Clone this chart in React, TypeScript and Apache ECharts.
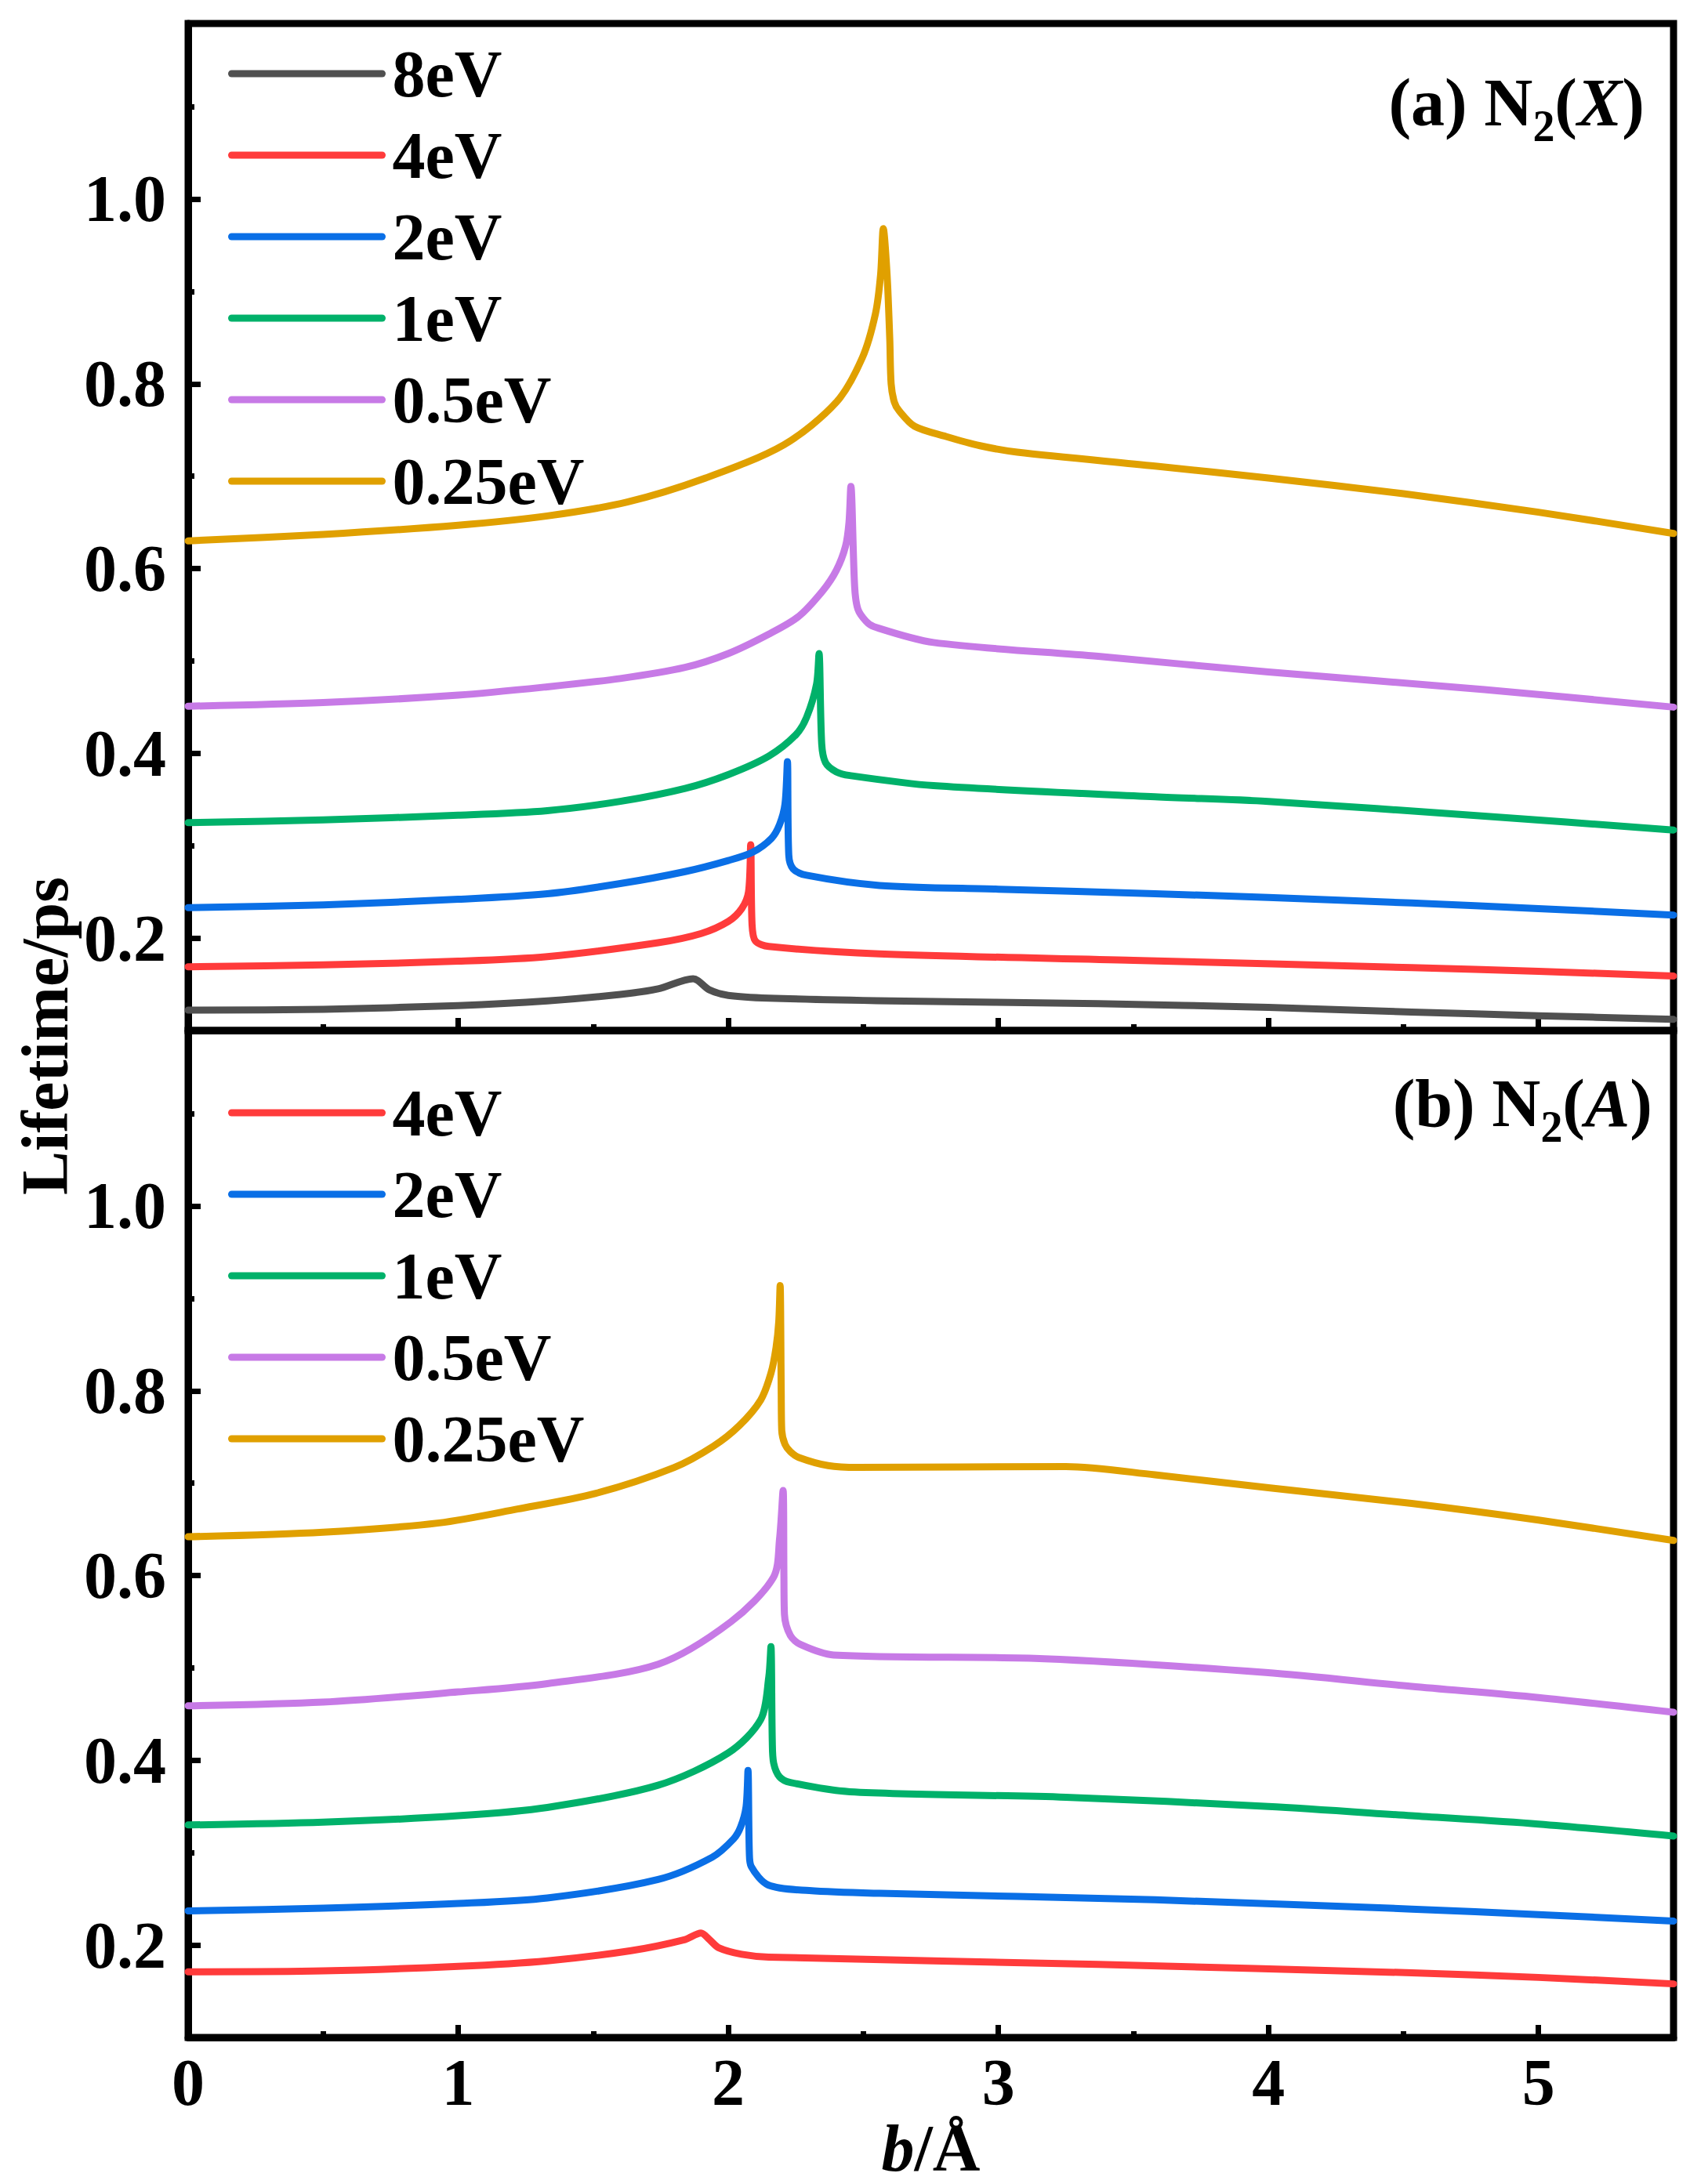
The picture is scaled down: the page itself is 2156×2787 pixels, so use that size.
import { useEffect, useRef } from 'react'
import * as echarts from 'echarts'

// b (Å) vs lifetime (ps)
const topNames = ['8eV', '4eV', '2eV', '1eV', '0.5eV', '0.25eV']
const bottomNames = ['4eV', '2eV', '1eV', '0.5eV', '0.25eV']

const colors: Record<string, string> = {
  '8eV': '#505050',
  '4eV': '#ff3b3b',
  '2eV': '#0a6fe6',
  '1eV': '#00b16a',
  '0.5eV': '#c77ae6',
  '0.25eV': '#e0a000'
}

// (a) N2(X)
const xEv8 = [[0, 0.122], [0.5, 0.123], [1.0, 0.127], [1.33, 0.132], [1.6, 0.139], [1.74, 0.145], [1.87, 0.156], [1.93, 0.144], [2.0, 0.138], [2.15, 0.135], [2.6, 0.132], [3.37, 0.129], [4.0, 0.125], [4.53, 0.12], [5.0, 0.116], [5.5, 0.112]]
const xEv4 = [[0, 0.169], [0.5, 0.171], [1.0, 0.175], [1.33, 0.18], [1.74, 0.195], [1.9, 0.205], [2.0, 0.218], [2.05, 0.232], [2.075, 0.25], [2.083, 0.301], [2.088, 0.215], [2.1, 0.197], [2.15, 0.191], [2.56, 0.183], [3.5, 0.176], [4.53, 0.168], [5.0, 0.164], [5.5, 0.159]]
const xEv2 = [[0, 0.233], [0.5, 0.236], [1.0, 0.242], [1.33, 0.248], [1.6, 0.259], [1.84, 0.272], [2.0, 0.284], [2.09, 0.293], [2.16, 0.308], [2.19, 0.323], [2.21, 0.345], [2.219, 0.391], [2.224, 0.29], [2.24, 0.275], [2.29, 0.268], [2.56, 0.257], [3.0, 0.253], [3.58, 0.248], [4.0, 0.244], [4.53, 0.238], [5.0, 0.232], [5.5, 0.225]]
const xEv1 = [[0, 0.325], [0.5, 0.328], [1.0, 0.333], [1.33, 0.338], [1.6, 0.348], [1.84, 0.362], [2.0, 0.377], [2.15, 0.397], [2.25, 0.42], [2.29, 0.439], [2.327, 0.475], [2.336, 0.508], [2.346, 0.41], [2.36, 0.39], [2.4, 0.38], [2.45, 0.376], [2.76, 0.365], [3.58, 0.353], [4.0, 0.348], [4.8, 0.332], [5.5, 0.317]]
const xEv05 = [[0, 0.451], [0.5, 0.455], [1.0, 0.463], [1.33, 0.472], [1.6, 0.481], [1.84, 0.493], [2.0, 0.508], [2.15, 0.529], [2.26, 0.548], [2.35, 0.576], [2.40, 0.598], [2.434, 0.624], [2.447, 0.65], [2.454, 0.689], [2.468, 0.58], [2.48, 0.556], [2.51, 0.543], [2.54, 0.537], [2.76, 0.52], [3.37, 0.505], [4.0, 0.488], [4.8, 0.469], [5.5, 0.45]]
const xEv025 = [[0, 0.63], [0.5, 0.637], [1.0, 0.647], [1.33, 0.657], [1.626, 0.672], [1.916, 0.698], [2.206, 0.734], [2.4, 0.78], [2.496, 0.828], [2.545, 0.876], [2.564, 0.918], [2.574, 0.968], [2.588, 0.918], [2.598, 0.848], [2.603, 0.8], [2.615, 0.78], [2.632, 0.771], [2.69, 0.754], [2.806, 0.743], [2.932, 0.733], [3.07, 0.726], [3.58, 0.711], [4.0, 0.698], [4.5, 0.681], [5.0, 0.661], [5.5, 0.638]]

// (b) N2(A)
const aEv4 = [[0, 0.171], [0.5, 0.172], [1.0, 0.177], [1.33, 0.183], [1.64, 0.194], [1.84, 0.206], [1.899, 0.213], [1.93, 0.206], [1.965, 0.197], [2.05, 0.19], [2.15, 0.187], [3.37, 0.179], [4.53, 0.17], [5.0, 0.165], [5.5, 0.158]]
const aEv2 = [[0, 0.237], [0.5, 0.24], [1.0, 0.245], [1.33, 0.251], [1.74, 0.271], [1.94, 0.295], [2.02, 0.315], [2.046, 0.328], [2.066, 0.35], [2.073, 0.389], [2.078, 0.3], [2.085, 0.285], [2.148, 0.265], [2.3, 0.259], [2.56, 0.256], [3.58, 0.249], [4.53, 0.239], [5.0, 0.233], [5.5, 0.226]]
const aEv1 = [[0, 0.33], [0.5, 0.333], [1.0, 0.34], [1.33, 0.349], [1.74, 0.373], [2.0, 0.408], [2.12, 0.444], [2.15, 0.49], [2.158, 0.523], [2.163, 0.42], [2.168, 0.397], [2.19, 0.382], [2.23, 0.376], [2.45, 0.366], [3.25, 0.36], [4.0, 0.35], [4.53, 0.34], [5.0, 0.331], [5.5, 0.318]]
const aEv05 = [[0, 0.459], [0.5, 0.463], [1.0, 0.474], [1.33, 0.483], [1.74, 0.504], [2.01, 0.55], [2.167, 0.598], [2.19, 0.64], [2.203, 0.692], [2.206, 0.6], [2.208, 0.558], [2.23, 0.535], [2.27, 0.525], [2.39, 0.514], [3.17, 0.51], [3.99, 0.495], [4.53, 0.48], [5.0, 0.468], [5.5, 0.452]]
const aEv025 = [[0, 0.642], [0.5, 0.647], [0.93, 0.657], [1.22, 0.672], [1.51, 0.689], [1.8, 0.717], [1.945, 0.74], [2.04, 0.762], [2.12, 0.79], [2.158, 0.819], [2.177, 0.847], [2.187, 0.875], [2.192, 0.914], [2.196, 0.8], [2.198, 0.757], [2.21, 0.742], [2.23, 0.734], [2.26, 0.728], [2.37, 0.719], [2.48, 0.717], [3.25, 0.718], [3.58, 0.709], [4.0, 0.695], [4.53, 0.678], [5.0, 0.66], [5.5, 0.638]]

const topData = [xEv8, xEv4, xEv2, xEv1, xEv05, xEv025]
const bottomData = [aEv4, aEv2, aEv1, aEv05, aEv025]

const xMajor = [0, 1, 2, 3, 4, 5]
const xMinor = [0.5, 1.5, 2.5, 3.5, 4.5]
const yMajor = [0.2, 0.4, 0.6, 0.8, 1.0]
const yMinor = [0.3, 0.5, 0.7, 0.9, 1.1]

const FONT = "'Liberation Serif', 'Times New Roman', serif"
const GRID_W = 1895
const GRID_H = 1285

const txt = { color: '#000', fontFamily: FONT, fontWeight: 'bold' as const, fontSize: 84, lineHeight: 84 }

const App: React.FC = () => {
  const chartRef = useRef<HTMLDivElement>(null)

  useEffect(() => {
    if (!chartRef.current) return
    const chart = echarts.init(chartRef.current, undefined, { renderer: 'svg' })

    const tickStyle = { color: '#000', width: 7 }

    const xMain = (gi: number, labels: boolean) => ({
      type: 'value', gridIndex: gi, min: 0, max: 5.5, position: 'bottom',
      axisLine: { show: true, onZero: false, lineStyle: { color: '#000', width: 9 } },
      axisTick: { show: true, inside: true, length: 16, lineStyle: tickStyle, customValues: xMajor },
      axisLabel: { show: labels, customValues: xMajor, margin: 15, ...txt },
      splitLine: { show: false }
    })
    // minor ticks: a second axis moved onto the bottom edge
    const xSmall = (gi: number) => ({
      type: 'value', gridIndex: gi, min: 0, max: 5.5, position: 'top', offset: -GRID_H,
      axisLine: { show: false, onZero: false },
      axisTick: { show: true, inside: false, length: 8, lineStyle: tickStyle, customValues: xMinor },
      axisLabel: { show: false },
      splitLine: { show: false }
    })
    const yMain = (gi: number) => ({
      type: 'value', gridIndex: gi, min: 0.1, max: 1.19, position: 'left',
      axisLine: { show: true, onZero: false, lineStyle: { color: '#000', width: 9 } },
      axisTick: { show: true, inside: true, length: 16, lineStyle: tickStyle, customValues: yMajor },
      axisLabel: { show: true, customValues: yMajor, margin: 28, formatter: (v: number) => v.toFixed(1), ...txt },
      splitLine: { show: false }
    })
    const ySmall = (gi: number) => ({
      type: 'value', gridIndex: gi, min: 0.1, max: 1.19, position: 'right', offset: -GRID_W,
      axisLine: { show: false, onZero: false },
      axisTick: { show: true, inside: false, length: 8, lineStyle: tickStyle, customValues: yMinor },
      axisLabel: { show: false },
      splitLine: { show: false }
    })

    const mkSeries = (name: string, data: number[][], panel: number) => ({
      type: 'line', name, data, xAxisIndex: panel, yAxisIndex: panel,
      symbol: 'none', smooth: 0.3, z: 3,
      lineStyle: { color: colors[name], width: 9, cap: 'round', join: 'round' },
      itemStyle: { color: colors[name] }
    })

    const legendBase = {
      orient: 'vertical', left: 286, itemWidth: 192, itemHeight: 24, itemGap: 20,
      selectedMode: false, itemStyle: { opacity: 0 },
      lineStyle: { width: 9, cap: 'round' },
      textStyle: { ...txt, padding: [0, 0, 0, 8] }
    }

    const titleRich = {
      b: { ...txt, fontSize: 86, lineHeight: 86 },
      s: { ...txt, fontSize: 56, lineHeight: 56, padding: [60, 0, 0, 0] },
      i: { ...txt, fontSize: 86, lineHeight: 86, fontStyle: 'italic' }
    }

    const option = {
      animation: false,
      backgroundColor: '#fff',
      grid: [
        { left: 240, top: 30, width: GRID_W, height: GRID_H, show: true, borderColor: '#000', borderWidth: 9, backgroundColor: 'transparent' },
        { left: 240, top: 30 + GRID_H, width: GRID_W, height: GRID_H, show: true, borderColor: '#000', borderWidth: 9, backgroundColor: 'transparent' }
      ],
      xAxis: [
        xMain(0, false),
        {
          ...xMain(1, true),
          name: '{i|b}/Å', nameLocation: 'middle', nameGap: 88,
          nameTextStyle: { ...txt, rich: { i: { ...txt, fontStyle: 'italic' } } }
        },
        xSmall(0),
        xSmall(1)
      ],
      yAxis: [yMain(0), yMain(1), ySmall(0), ySmall(1)],
      legend: [
        { ...legendBase, top: 47, data: topNames },
        { ...legendBase, top: 1373, data: bottomNames }
      ],
      graphic: [
        {
          type: 'text', x: 2098, y: 131,
          style: { text: '{b|(a) N}{s|2}{b|(}{i|X}{b|)}', align: 'right', verticalAlign: 'middle', rich: titleRich }
        },
        {
          type: 'text', x: 2108, y: 1408,
          style: { text: '{b|(b) N}{s|2}{b|(}{i|A}{b|)}', align: 'right', verticalAlign: 'middle', rich: titleRich }
        },
        {
          type: 'text', x: 57, y: 1322, rotation: Math.PI / 2,
          style: { text: 'Lifetime/ps', align: 'center', verticalAlign: 'middle', fill: '#000', fontFamily: FONT, fontWeight: 'bold', fontSize: 84 }
        }
      ],
      series: [
        ...topNames.map((n, i) => mkSeries(n, topData[i], 0)),
        ...bottomNames.map((n, i) => mkSeries(n, bottomData[i], 1))
      ]
    }

    chart.setOption(option as any)
    return () => {
      chart.dispose()
    }
  }, [])

  return (
    <div
      ref={chartRef}
      style={{ position: 'absolute', left: 0, top: 0, width: 2156, height: 2787 }}
    />
  )
}

export default App
